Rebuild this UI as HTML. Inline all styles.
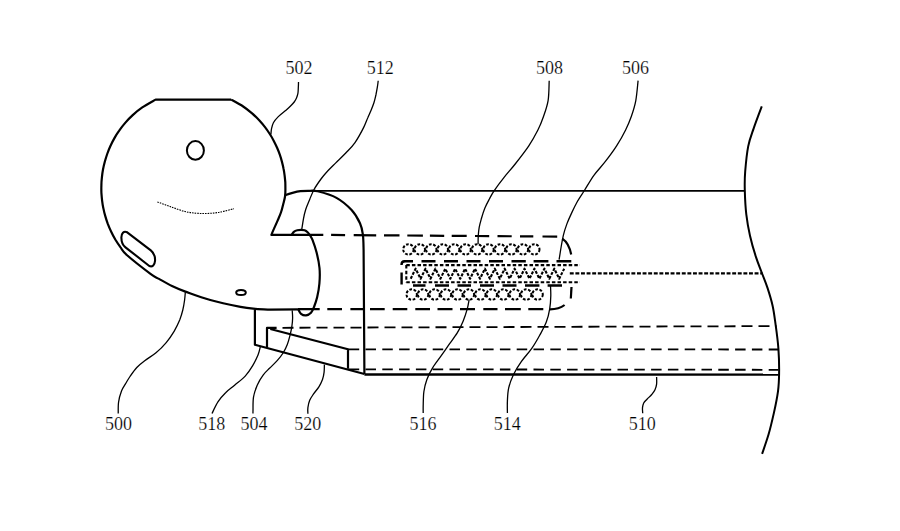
<!DOCTYPE html>
<html><head><meta charset="utf-8"><title>Fig</title>
<style>html,body{margin:0;padding:0;background:#fff;width:900px;height:531px;overflow:hidden;font-family:"Liberation Serif",serif}svg{display:block}</style>
</head><body><svg width="900" height="531" viewBox="0 0 900 531"><g stroke-linecap="butt" stroke-linejoin="round"><path d="M231.1 99.6 L155.6 99.6 C153.4 100.9 146.1 104.8 142.3 107.4 C138.5 110.0 135.5 112.5 132.7 115.1 C129.8 117.7 127.4 120.3 125.2 122.9 C122.9 125.5 121.0 128.1 119.2 130.7 C117.3 133.3 115.7 135.9 114.3 138.4 C112.8 141.0 111.5 143.6 110.3 146.2 C109.1 148.8 108.1 151.4 107.2 154.0 C106.3 156.6 105.5 159.2 104.8 161.8 C104.1 164.3 103.5 166.9 103.0 169.5 C102.5 172.1 102.2 174.7 101.9 177.3 C101.6 179.9 101.4 182.5 101.4 185.1 C101.3 187.7 101.3 190.2 101.4 192.8 C101.6 195.4 101.8 198.0 102.1 200.6 C102.4 203.2 102.8 205.8 103.4 208.4 C103.9 211.0 104.5 213.6 105.3 216.1 C106.0 218.7 106.9 221.3 107.8 223.9 C108.8 226.5 109.9 229.1 111.2 231.7 C112.4 234.3 113.8 236.9 115.3 239.5 C116.9 242.1 118.5 244.6 120.4 247.2 C122.4 249.8 121.8 250.6 126.8 255.0 C131.8 259.4 145.1 269.8 150.5 273.8 C155.9 277.8 155.4 276.9 159.0 278.9 C162.6 280.9 167.6 283.9 172.0 286.0 C176.4 288.1 179.0 289.3 185.4 291.6 C191.8 293.9 201.1 297.5 210.3 300.0 C219.5 302.5 233.0 305.3 240.5 306.8 C248.0 308.3 250.6 308.4 255.5 308.9 C260.4 309.4 267.6 309.5 270.0 309.6 L298 309.4" stroke="#000" stroke-width="2.2" fill="none"/><path d="M231.1 99.6 C233.1 100.7 239.7 104.2 243.2 106.5 C246.7 108.8 249.4 111.1 252.1 113.4 C254.8 115.7 257.0 118.0 259.2 120.3 C261.3 122.6 263.2 124.8 265.0 127.1 C266.8 129.4 268.3 131.7 269.8 134.0 C271.3 136.3 272.6 138.6 273.8 140.9 C275.0 143.2 276.1 145.5 277.1 147.8 C278.1 150.1 279.0 152.4 279.8 154.7 C280.6 157.0 281.3 159.3 281.9 161.6 C282.5 163.9 283.1 166.2 283.5 168.5 C284.0 170.8 284.3 173.0 284.6 175.3 C284.9 177.6 285.1 179.9 285.3 182.2 C285.4 184.5 285.4 186.8 285.4 189.1 C285.4 191.4 285.4 193.6 285.1 196.0 C284.8 198.4 284.1 200.8 283.4 203.5 C282.7 206.2 282.1 209.2 281.1 212.0 C280.2 214.8 278.9 217.6 277.7 220.4 C276.5 223.2 274.9 226.5 273.9 228.9 C272.8 231.3 271.8 233.9 271.4 234.9 L310 234.9" stroke="#000" stroke-width="2.2" fill="none"/><ellipse cx="195.4" cy="150.4" rx="8.5" ry="9.3" stroke="#000" stroke-width="2" fill="none"/><ellipse cx="241" cy="292.5" rx="4.8" ry="2.6" stroke="#000" stroke-width="2" fill="none"/><path d="M127.2 232.3 L150.8 250.4 C154 253 155.3 257 155 261 C154.7 265 152.5 267.2 149.3 266 L125.5 247.3 C122.5 245 121.3 241 121.4 237.2 C121.5 233.5 123.5 230.5 127.2 232.3 Z" stroke="#000" stroke-width="2.1" fill="none"/><path d="M157.4 201.9 C159.5 202.7 165.4 204.9 170.0 206.5 C174.6 208.1 179.9 210.3 185.0 211.5 C190.1 212.7 195.2 213.3 200.7 213.5 C206.2 213.7 212.4 213.3 218.0 212.5 C223.6 211.7 231.3 209.3 234.0 208.7" stroke="#000" stroke-width="1.1" fill="none" stroke-dasharray="1.6 1"/><path d="M285.0 195.2 C286.2 194.8 289.9 193.6 292.5 192.9 C295.1 192.2 297.8 191.5 300.4 191.2 C303.0 190.9 305.1 190.9 308.0 190.9 C310.9 190.9 312.9 190.1 317.7 191.3 C322.4 192.5 330.9 194.8 336.5 197.9 C342.1 201.0 347.7 205.9 351.6 210.1 C355.5 214.3 358.1 219.2 360.0 223.3 C361.9 227.4 362.3 230.2 362.9 234.6 C363.5 239.0 363.5 247.4 363.6 250.0 L364.4 374" stroke="#000" stroke-width="2.2" fill="none"/><line x1="300" y1="190.9" x2="744.8" y2="190.9" stroke="#000" stroke-width="1.8"/><path d="M291.6 234.9 C292.0 234.4 292.9 232.7 293.8 231.9 C294.8 231.1 296.1 230.6 297.3 230.3 C298.5 230.0 299.8 229.9 301.0 229.9 C302.2 229.9 303.5 229.9 304.6 230.3 C305.7 230.7 306.7 231.4 307.6 232.2 C308.5 233.0 309.0 233.8 309.8 235.1 C310.6 236.3 311.3 236.8 312.4 239.7 C313.5 242.6 315.4 247.8 316.6 252.5 C317.8 257.2 319.0 262.8 319.5 268.0 C320.0 273.2 319.8 278.7 319.4 283.5 C319.0 288.3 318.1 293.2 317.2 297.0 C316.3 300.8 315.2 303.9 314.2 306.5 C313.2 309.1 312.4 311.3 311.0 312.8 C309.6 314.3 307.7 315.2 306.0 315.4 C304.3 315.6 302.3 314.8 301.0 313.8 C299.7 312.8 298.8 310.1 298.3 309.4" stroke="#000" stroke-width="2.2" fill="none"/><path d="M254.9 309.6 L254.9 344.7 L364.4 374" stroke="#000" stroke-width="2.2" fill="none"/><path d="M267 347.4 L267 327.9 L276.6 327.9" stroke="#000" stroke-width="2.2" fill="none"/><path d="M270.3 329 L348 349.3 L348 368.8" stroke="#000" stroke-width="2.2" fill="none"/><path d="M761.8 106.4 C760.4 110.1 755.9 121.9 753.6 128.6 C751.3 135.3 749.6 139.3 748.2 146.4 C746.8 153.5 745.8 164.1 745.2 171.4 C744.6 178.7 744.6 183.2 744.8 190.4 C745.0 197.6 745.4 206.8 746.3 214.3 C747.2 221.9 748.4 228.6 750.0 235.7 C751.6 242.8 754.0 251.0 756.0 257.1 C758.0 263.2 759.8 267.4 761.7 272.5 C763.6 277.6 765.7 282.4 767.5 287.9 C769.3 293.4 771.2 299.4 772.6 305.7 C774.0 311.9 774.7 318.2 775.7 325.4 C776.7 332.5 777.8 340.6 778.4 348.6 C779.0 356.6 779.2 366.5 779.1 373.6 C779.0 380.7 778.9 384.8 778.0 391.4 C777.1 397.9 775.5 405.8 773.9 412.9 C772.3 420.0 770.6 427.5 768.6 434.3 C766.6 441.1 763.2 450.6 762.1 453.9" stroke="#000" stroke-width="2.0" fill="none"/><path d="M308.2 234.80L323.3 234.91M331.1 234.97L345.1 235.07M353.7 235.13L376.2 235.29M384.0 235.35L399.5 235.46M407.3 235.51L422.9 235.63M429.9 235.68L444.2 235.78M451.7 235.83L466.7 235.94M475.0 236.00L489.2 236.10M497.5 236.16L511.7 236.27M520.0 236.33L533.3 236.42M542.5 236.49L557.2 236.59" stroke="#000" stroke-width="2.2" fill="none"/><path d="M298.0 309.20L319.7 309.20M327.3 309.20L342.0 309.20M350.4 309.20L363.3 309.20M370.0 309.20L384.7 309.20M392.7 309.20L407.3 309.20M415.3 309.20L430.0 309.20M437.5 309.20L452.5 309.20M460.0 309.20L475.0 309.20M483.3 309.20L497.5 309.20M505.0 309.20L520.8 309.20M528.3 309.20L543.3 309.20" stroke="#000" stroke-width="2.2" fill="none"/><path d="M562.3 238.6 Q569 243 571.2 254.5" stroke="#000" stroke-width="2.2" fill="none"/><path d="M571.5 287 L570.8 298.5" stroke="#000" stroke-width="2.2" fill="none"/><path d="M564.6 305 Q559 309.3 550 309.3" stroke="#000" stroke-width="2.2" fill="none"/><line x1="281.5" y1="327.8" x2="776.5" y2="326.1" stroke="#000" stroke-width="1.8" stroke-dasharray="11 6" stroke-dashoffset="-1"/><line x1="348" y1="349.3" x2="778" y2="349.5" stroke="#000" stroke-width="1.8" stroke-dasharray="10.5 6.3" stroke-dashoffset="-0.7"/><line x1="348" y1="369.3" x2="778.5" y2="369.8" stroke="#000" stroke-width="1.8" stroke-dasharray="10.5 6.3" stroke-dashoffset="-0.7"/><line x1="364.4" y1="374.5" x2="778.6" y2="374.6" stroke="#000" stroke-width="2.4"/><circle cx="408.4" cy="249.4" r="5.2" stroke="#000" stroke-width="2" fill="none" stroke-dasharray="2.7 1.6"/><circle cx="419.8" cy="249.4" r="5.2" stroke="#000" stroke-width="2" fill="none" stroke-dasharray="2.7 1.6"/><circle cx="431.3" cy="249.4" r="5.2" stroke="#000" stroke-width="2" fill="none" stroke-dasharray="2.7 1.6"/><circle cx="442.8" cy="249.4" r="5.2" stroke="#000" stroke-width="2" fill="none" stroke-dasharray="2.7 1.6"/><circle cx="454.2" cy="249.4" r="5.2" stroke="#000" stroke-width="2" fill="none" stroke-dasharray="2.7 1.6"/><circle cx="465.6" cy="249.4" r="5.2" stroke="#000" stroke-width="2" fill="none" stroke-dasharray="2.7 1.6"/><circle cx="477.1" cy="249.4" r="5.2" stroke="#000" stroke-width="2" fill="none" stroke-dasharray="2.7 1.6"/><circle cx="488.5" cy="249.4" r="5.2" stroke="#000" stroke-width="2" fill="none" stroke-dasharray="2.7 1.6"/><circle cx="500.0" cy="249.4" r="5.2" stroke="#000" stroke-width="2" fill="none" stroke-dasharray="2.7 1.6"/><circle cx="511.4" cy="249.4" r="5.2" stroke="#000" stroke-width="2" fill="none" stroke-dasharray="2.7 1.6"/><circle cx="522.9" cy="249.4" r="5.2" stroke="#000" stroke-width="2" fill="none" stroke-dasharray="2.7 1.6"/><circle cx="534.3" cy="249.4" r="5.2" stroke="#000" stroke-width="2" fill="none" stroke-dasharray="2.7 1.6"/><circle cx="411.7" cy="294.5" r="5.2" stroke="#000" stroke-width="2" fill="none" stroke-dasharray="2.7 1.6"/><circle cx="423.1" cy="294.5" r="5.2" stroke="#000" stroke-width="2" fill="none" stroke-dasharray="2.7 1.6"/><circle cx="434.6" cy="294.5" r="5.2" stroke="#000" stroke-width="2" fill="none" stroke-dasharray="2.7 1.6"/><circle cx="446.0" cy="294.5" r="5.2" stroke="#000" stroke-width="2" fill="none" stroke-dasharray="2.7 1.6"/><circle cx="457.5" cy="294.5" r="5.2" stroke="#000" stroke-width="2" fill="none" stroke-dasharray="2.7 1.6"/><circle cx="468.9" cy="294.5" r="5.2" stroke="#000" stroke-width="2" fill="none" stroke-dasharray="2.7 1.6"/><circle cx="480.4" cy="294.5" r="5.2" stroke="#000" stroke-width="2" fill="none" stroke-dasharray="2.7 1.6"/><circle cx="491.8" cy="294.5" r="5.2" stroke="#000" stroke-width="2" fill="none" stroke-dasharray="2.7 1.6"/><circle cx="503.3" cy="294.5" r="5.2" stroke="#000" stroke-width="2" fill="none" stroke-dasharray="2.7 1.6"/><circle cx="514.8" cy="294.5" r="5.2" stroke="#000" stroke-width="2" fill="none" stroke-dasharray="2.7 1.6"/><circle cx="526.2" cy="294.5" r="5.2" stroke="#000" stroke-width="2" fill="none" stroke-dasharray="2.7 1.6"/><circle cx="537.6" cy="294.5" r="5.2" stroke="#000" stroke-width="2" fill="none" stroke-dasharray="2.7 1.6"/><path d="M404.0 261.30L413.0 261.30M421.5 261.30L435.5 261.30M444.0 261.30L458.0 261.30M466.5 261.30L480.5 261.30M489.0 261.30L503.0 261.30M511.5 261.30L525.8 261.30M533.6 261.30L548.4 261.30M556.5 261.30L571.3 261.30" stroke="#000" stroke-width="2.5" fill="none"/><path d="M401.5 265 Q401.5 261.3 404.5 261.3" stroke="#000" stroke-width="2.4" fill="none"/><line x1="401.6" y1="272.5" x2="401.6" y2="284.5" stroke="#000" stroke-width="2.4"/><path d="M413.0 285.60L425.5 285.60M435.0 285.60L449.0 285.60M457.5 285.60L471.0 285.60M480.0 285.60L494.0 285.60M502.5 285.60L516.5 285.60M525.0 285.60L539.4 285.60M547.6 285.60L562.0 285.60" stroke="#000" stroke-width="2.5" fill="none"/><line x1="406.3" y1="265.1" x2="580" y2="265.1" stroke="#000" stroke-width="2.1" stroke-dasharray="3.5 2.1"/><line x1="406.3" y1="282.3" x2="580" y2="282.3" stroke="#000" stroke-width="2.1" stroke-dasharray="3.5 2.1"/><line x1="406.3" y1="265.1" x2="406.3" y2="282.3" stroke="#000" stroke-width="2.1" stroke-dasharray="3.5 2.1"/><line x1="569.8" y1="273.4" x2="762.5" y2="273.4" stroke="#000" stroke-width="2.1" stroke-dasharray="3.9 1.7"/><path d="M410.7 278.7 L415.6 268.7 L420.6 278.7 L425.5 268.7 L430.5 278.7 L435.4 268.7 L440.4 278.7 L445.3 268.7 L450.3 278.7 L455.2 268.7 L460.2 278.7 L465.1 268.7 L470.1 278.7 L475.0 268.7 L480.0 278.7 L484.9 268.7 L489.9 278.7 L494.8 268.7 L499.8 278.7 L504.7 268.7 L509.7 278.7 L514.6 268.7 L519.6 278.7 L524.5 268.7 L529.5 278.7 L534.4 268.7 L539.4 278.7 L544.4 268.7 L549.3 278.7 L554.3 268.7 L559.2 278.7 L564.2 268.7" stroke="#000" stroke-width="2.1" fill="none" stroke-dasharray="3 1.4"/><path d="M298.5 82.0 C298.5 83.0 298.4 86.1 298.3 88.0 C298.2 89.9 298.2 91.7 297.9 93.4 C297.6 95.1 297.1 96.6 296.5 98.0 C295.9 99.4 295.2 100.6 294.2 102.0 C293.2 103.4 291.7 104.9 290.3 106.3 C288.9 107.7 287.6 108.8 285.6 110.5 C283.6 112.2 280.3 114.6 278.3 116.6 C276.3 118.6 274.5 120.7 273.4 122.7 C272.3 124.8 271.9 127.0 271.5 128.9 C271.1 130.8 271.0 133.5 270.9 134.4" stroke="#000" stroke-width="1.3" fill="none"/><path d="M378.2 80.8 C378.1 81.9 377.7 85.0 377.3 87.4 C376.9 89.8 376.4 92.5 375.9 95.0 C375.3 97.5 374.8 100.0 374.0 102.5 C373.2 105.0 372.2 107.5 371.2 110.0 C370.2 112.5 369.1 114.6 367.9 117.5 C366.6 120.4 365.8 123.2 363.7 127.4 C361.6 131.6 357.9 138.4 355.0 142.6 C352.1 146.8 349.2 149.4 346.0 152.8 C342.8 156.2 339.0 159.7 335.8 162.9 C332.6 166.1 329.3 169.3 326.8 172.0 C324.3 174.7 323.1 176.1 321.0 179.0 C318.9 181.9 316.1 185.8 314.2 189.2 C312.3 192.6 311.1 196.0 309.7 199.4 C308.3 202.8 306.7 206.3 305.7 209.5 C304.7 212.7 304.1 215.3 303.5 218.6 C302.9 221.9 302.1 227.4 301.8 229.2" stroke="#000" stroke-width="1.3" fill="none"/><path d="M549.2 80.7 C549.0 84.0 549.1 94.6 548.1 100.6 C547.1 106.6 545.2 111.6 543.5 116.5 C541.8 121.4 540.4 125.1 537.9 130.0 C535.4 134.9 532.6 140.2 528.8 145.9 C525.0 151.6 519.4 158.7 515.2 164.0 C511.1 169.3 507.4 173.1 503.9 177.6 C500.3 182.1 496.3 187.5 493.9 191.1 C491.5 194.7 490.9 196.2 489.4 199.0 C487.9 201.8 486.2 204.9 484.9 208.1 C483.6 211.3 482.4 215.1 481.5 218.3 C480.6 221.5 479.7 224.5 479.2 227.3 C478.7 230.1 478.5 232.4 478.3 235.2 C478.1 238.0 478.1 242.8 478.1 244.3" stroke="#000" stroke-width="1.3" fill="none"/><path d="M638.1 80.7 C637.7 84.0 636.9 94.6 635.8 100.6 C634.7 106.6 633.0 111.6 631.3 116.5 C629.6 121.4 628.0 125.1 625.6 130.0 C623.2 134.9 620.0 140.6 616.6 145.9 C613.2 151.2 609.0 156.8 605.2 161.7 C601.4 166.6 597.3 170.6 593.9 175.3 C590.5 180.0 587.4 185.7 584.7 190.0 C582.0 194.3 579.6 197.5 577.5 201.3 C575.4 205.1 573.6 208.8 571.8 212.6 C570.0 216.4 568.3 220.1 566.9 223.9 C565.5 227.7 564.3 231.4 563.4 235.2 C562.5 239.0 561.9 242.4 561.2 246.5 C560.5 250.6 559.5 257.4 559.1 259.6" stroke="#000" stroke-width="1.3" fill="none"/><path d="M118.2 413.5 C118.3 411.6 118.0 405.8 118.6 402.0 C119.1 398.2 120.3 394.2 121.5 391.0 C122.7 387.8 124.6 385.4 126.0 383.0 C127.4 380.6 128.2 379.1 130.0 376.5 C131.8 373.9 134.4 370.1 136.8 367.5 C139.2 364.9 141.5 363.1 144.7 360.7 C147.9 358.2 152.4 355.8 156.0 352.8 C159.6 349.8 163.2 346.2 166.2 342.6 C169.2 339.0 171.8 335.1 174.1 331.3 C176.3 327.5 178.2 323.6 179.7 320.0 C181.1 316.4 182.0 313.3 182.8 310.0 C183.6 306.7 184.2 302.9 184.6 300.0 C185.0 297.1 185.2 293.7 185.3 292.4" stroke="#000" stroke-width="1.3" fill="none"/><path d="M212.0 413.5 C213.0 411.5 215.8 405.2 218.1 401.7 C220.4 398.2 222.8 395.4 225.6 392.7 C228.3 389.9 231.3 388.0 234.6 385.2 C237.9 382.4 242.2 379.4 245.2 376.1 C248.2 372.8 250.6 369.1 252.7 365.6 C254.8 362.1 256.7 358.3 258.0 355.1 C259.3 351.9 260.0 347.9 260.4 346.5" stroke="#000" stroke-width="1.3" fill="none"/><path d="M253.0 413.5 C253.0 413.1 252.9 413.5 253.0 410.8 C253.1 408.1 252.8 401.5 253.5 397.2 C254.2 392.9 255.6 388.9 257.2 385.2 C258.8 381.5 261.2 377.6 263.3 374.8 C265.4 372.0 267.1 370.7 269.5 368.3 C271.9 365.9 275.1 363.0 277.4 360.4 C279.7 357.8 281.8 355.1 283.4 352.5 C285.0 349.9 286.2 347.5 287.3 344.6 C288.4 341.7 289.2 338.4 290.0 335.3 C290.8 332.2 291.5 329.0 291.9 326.1 C292.3 323.2 292.6 320.8 292.6 318.2 C292.7 315.6 292.3 311.7 292.2 310.4" stroke="#000" stroke-width="1.3" fill="none"/><path d="M307.9 413.8 C307.9 412.8 307.6 409.9 307.9 407.6 C308.2 405.4 308.8 402.5 309.7 400.3 C310.6 398.1 311.9 396.4 313.4 394.2 C314.9 391.9 317.4 389.2 318.9 386.8 C320.4 384.4 321.6 381.9 322.5 379.5 C323.4 377.1 323.8 374.6 324.1 372.1 C324.4 369.6 324.3 365.9 324.4 364.6" stroke="#000" stroke-width="1.3" fill="none"/><path d="M423.2 413.0 C423.2 411.8 423.1 409.2 423.2 405.6 C423.3 402.0 423.3 395.8 423.9 391.5 C424.5 387.2 425.4 383.6 426.8 379.7 C428.2 375.8 430.2 371.8 432.6 367.9 C435.0 364.0 438.1 360.1 440.9 356.2 C443.6 352.3 446.4 348.3 449.1 344.4 C451.9 340.5 455.0 336.5 457.4 332.6 C459.8 328.7 461.6 324.8 463.2 320.9 C464.8 317.0 466.2 312.6 467.2 309.1 C468.2 305.6 468.8 301.3 469.1 299.7" stroke="#000" stroke-width="1.3" fill="none"/><path d="M507.4 413.0 C507.4 411.0 507.2 405.3 507.4 401.1 C507.6 396.9 507.7 392.3 508.7 387.9 C509.7 383.5 511.3 379.1 513.4 374.7 C515.5 370.3 518.2 366.0 521.3 361.6 C524.4 357.2 528.7 352.8 531.8 348.4 C534.9 344.0 537.3 339.7 539.7 335.3 C542.1 330.9 544.6 326.5 546.3 322.1 C548.0 317.7 549.0 313.3 549.7 308.9 C550.5 304.5 550.7 299.7 550.8 295.8 C550.9 291.9 550.5 287.1 550.5 285.3" stroke="#000" stroke-width="1.3" fill="none"/><path d="M642.7 413.3 C642.7 412.4 642.3 409.4 642.5 407.7 C642.7 406.0 643.0 404.4 643.7 403.0 C644.5 401.6 645.7 400.6 647.0 399.2 C648.3 397.8 650.4 396.1 651.7 394.5 C653.0 392.9 654.2 391.5 655.0 389.8 C655.8 388.1 656.3 386.2 656.6 384.1 C656.9 382.0 656.6 378.1 656.6 376.9" stroke="#000" stroke-width="1.3" fill="none"/></g><g font-family="Liberation Serif, serif" font-size="18" fill="#000" stroke="#fff" stroke-width="0.2"><text x="285.5" y="73.7">502</text><text x="366.8" y="73.7">512</text><text x="535.9" y="73.7">508</text><text x="621.9" y="73.7">506</text><text x="105.0" y="430.2">500</text><text x="198.3" y="430.2">518</text><text x="240.5" y="430.2">504</text><text x="294.3" y="430.2">520</text><text x="409.5" y="430.2">516</text><text x="493.8" y="430.2">514</text><text x="628.8" y="430.2">510</text></g></svg></body></html>
